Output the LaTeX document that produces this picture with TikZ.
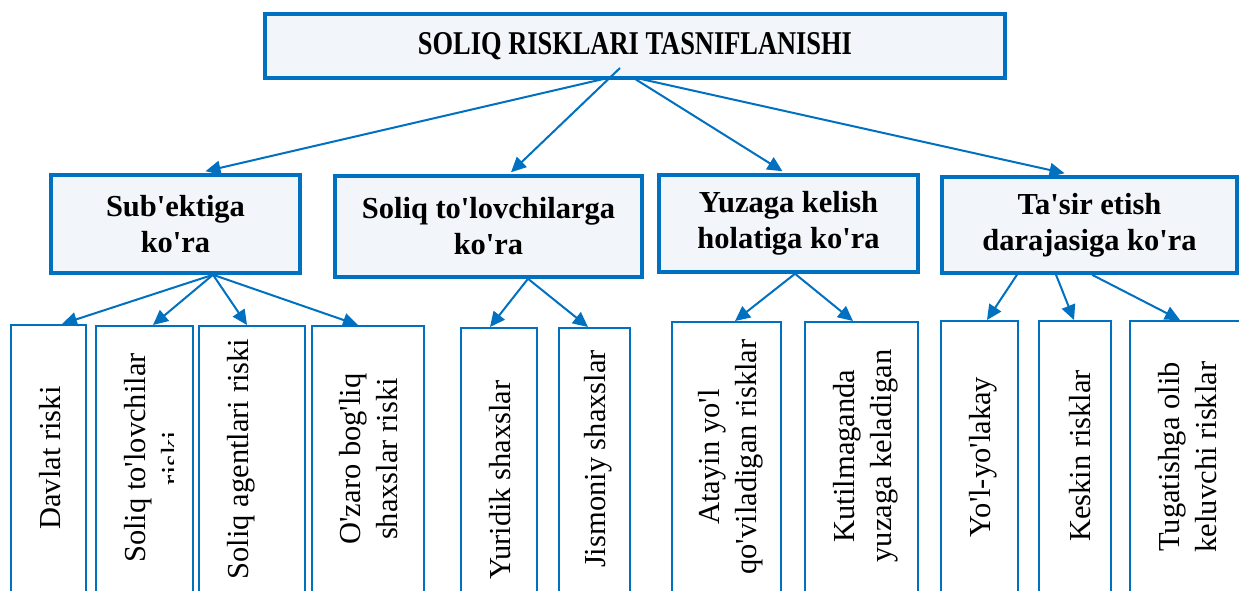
\documentclass[tikz,border=0pt]{standalone}
\usepackage{fontspec}
\usepackage{graphicx}
\setmainfont{Liberation Serif}[Ligatures=TeXOff]
\usetikzlibrary{arrows.meta}
\definecolor{bblue}{HTML}{0070C0}
\definecolor{bfill}{HTML}{F2F6FA}
\begin{document}
\begin{tikzpicture}[x=1pt,y=-1pt,
  topbox/.style={draw=bblue, line width=4pt, fill=bfill, inner sep=0pt},
  catbox/.style={draw=bblue, line width=3.5pt, fill=bfill, inner sep=0pt, align=center,
    font=\bfseries\fontsize{30.5}{36}\selectfont},
  leafbox/.style={draw=bblue, line width=2pt, fill=white, inner sep=0pt},
  leaftext/.style={rotate=90, align=center, inner sep=0pt,
    font=\fontsize{30.5}{37}\selectfont},
  arr/.style={draw=bblue, line width=2pt, -{Triangle[length=15pt,width=14pt]}}
]
\clip (0,0) rectangle (1239,590);
\fill[white] (0,0) rectangle (1239,590);

% top
\node[topbox, minimum width=740pt, minimum height=64pt] (top) at (635,46)
  {\resizebox{434pt}{22pt}{\bfseries SOLIQ RISKLARI TASNIFLANISHI}};

% categories
\node[catbox, minimum width=249pt, minimum height=98pt] (b1) at (175.5,224) {Sub'ektiga\\ko'ra};
\node[catbox, minimum width=307pt, minimum height=101pt] (b2) at (488.5,226.5) {Soliq to'lovchilarga\\ko'ra};
\node[catbox, minimum width=259pt, minimum height=97pt] (b3) at (788.5,223.5) {Yuzaga kelish\\holatiga ko'ra};
\node[catbox, minimum width=295pt, minimum height=96pt] (b4) at (1089.5,225) {Ta'sir etish\\darajasiga ko'ra};

% leaves
\node[leafbox, minimum width=75pt, minimum height=285pt] (l1) at (48.5,467.5) {};
\node[leafbox, minimum width=97pt, minimum height=284pt] (l2) at (144.5,468) {};
\node[leafbox, minimum width=106pt, minimum height=284pt] (l3) at (252,468) {};
\node[leafbox, minimum width=112pt, minimum height=284pt] (l4) at (368,468) {};
\node[leafbox, minimum width=76pt, minimum height=282pt] (l5) at (499,469) {};
\node[leafbox, minimum width=71pt, minimum height=282pt] (l6) at (594.5,469) {};
\node[leafbox, minimum width=109pt, minimum height=288pt] (l7) at (726.5,466) {};
\node[leafbox, minimum width=113pt, minimum height=288pt] (l8) at (861.5,466) {};
\node[leafbox, minimum width=77pt, minimum height=289pt] (l9) at (979.5,465.5) {};
\node[leafbox, minimum width=72pt, minimum height=289pt] (l10) at (1075,465.5) {};
\node[leafbox, minimum width=130pt, minimum height=289pt] (l11) at (1195,465.5) {};

% leaf texts
\node[leaftext] (t1) at (50,458) {Davlat riski};
\begin{scope}
  \clip (96,320) rectangle (173,600);
  \node[leaftext] (t2) at (154,458) {Soliq to'lovchilar\\riski};
\end{scope}
\node[leaftext] (t3) at (241,459) {Soliq agentlari riski};
\node[leaftext] (t4) at (369,459) {O'zaro bog'liq\\shaxslar riski};
\node[leaftext] (t5) at (500,480) {Yuridik shaxslar};
\node[leaftext] (t6) at (598,459) {Jismoniy shaxslar};
\node[leaftext] (t7) at (731,457) {Atayin yo'l\\qo'viladigan risklar};
\node[leaftext] (t8) at (866,456) {Kutilmaganda\\yuzaga keladigan};
\node[leaftext] (t9) at (983,457) {Yo'l-yo'lakay};
\node[leaftext] (t10) at (1080,456) {Keskin risklar};
\node[leaftext] (t11) at (1188,457) {Tugatishga olib\\keluvchi risklar};

% arrows from top
\draw[arr] ([xshift=-23pt,yshift=3pt]top.south) -- ([xshift=30pt,yshift=2pt]b1.north);
\draw[arr] ([xshift=-15pt,yshift=12pt]top.south) -- ([xshift=22.5pt,yshift=2pt]b2.north);
\draw[arr] ([xshift=-3pt,yshift=3pt]top.south) -- ([xshift=-6pt,yshift=2pt]b3.north);
\draw[arr] ([xshift=-3pt,yshift=3pt]top.south) -- ([xshift=-25pt,yshift=2pt]b4.north);

% arrows from b1
\draw[arr] ([xshift=37.5pt]b1.south) -- ([xshift=13.5pt]l1.north);
\draw[arr] ([xshift=37.5pt]b1.south) -- ([xshift=8.5pt]l2.north);
\draw[arr] ([xshift=37.5pt]b1.south) -- ([xshift=-5pt]l3.north);
\draw[arr] ([xshift=37.5pt]b1.south) -- ([xshift=-10pt]l4.north);
% b2
\draw[arr] ([xshift=39.5pt]b2.south) -- ([xshift=-9pt]l5.north);
\draw[arr] ([xshift=39.5pt]b2.south) -- ([xshift=-6.5pt]l6.north);
% b3
\draw[arr] ([xshift=6.5pt]b3.south) -- ([xshift=8.5pt]l7.north);
\draw[arr] ([xshift=6.5pt]b3.south) -- ([xshift=-8.5pt]l8.north);
% b4
\draw[arr] ([xshift=-72.5pt]b4.south) -- ([xshift=7.5pt]l9.north);
\draw[arr] ([xshift=-33.5pt]b4.south) -- ([xshift=-1pt]l10.north);
\draw[arr] ([xshift=2.5pt]b4.south) -- ([xshift=-15pt]l11.north);
\end{tikzpicture}
\end{document}
